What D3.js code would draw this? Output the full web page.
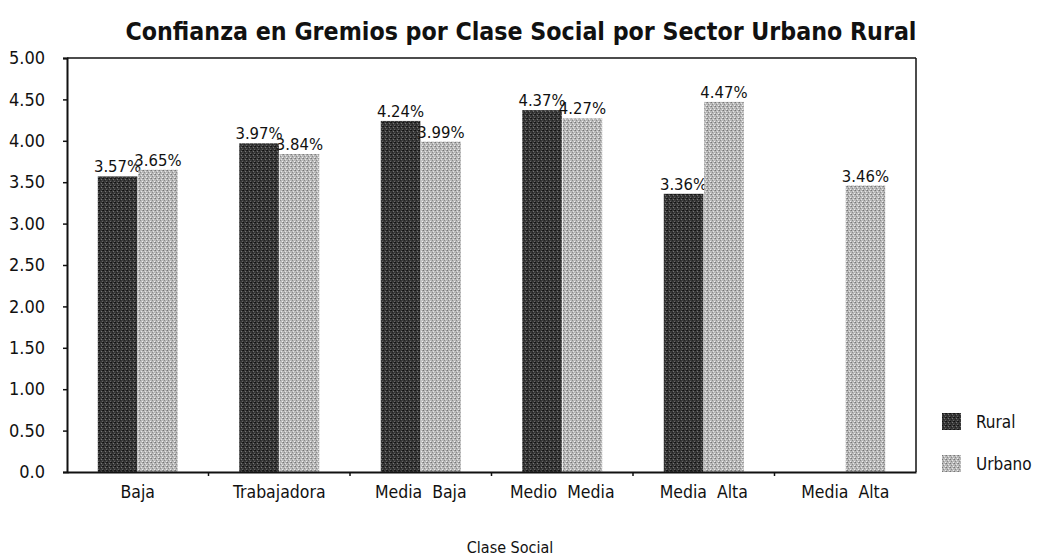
<!DOCTYPE html>
<html>
<head>
<meta charset="utf-8">
<script src="https://cdn.jsdelivr.net/npm/d3@7"></script>
<style>
  body { margin: 0; background: #fff; }
  svg text { font-family: "Liberation Sans Narrow", "DejaVu Sans Condensed", "Roboto Condensed", sans-serif; fill: #111; }
</style>
</head>
<body>
<svg id="chart" width="1037" height="558"></svg>
<script>
// Confianza en gremios por clase social y sector
const categories = ["Baja", "Trabajadora", "Media  Baja", "Medio  Media", "Media  Alta", "Media  Alta"];
const rural  = [3.57, 3.97, 4.24, 4.37, 3.36, null];
const urbano = [3.65, 3.84, 3.99, 4.27, 4.47, 3.46];
const yTicks = [0, 0.5, 1, 1.5, 2, 2.5, 3, 3.5, 4, 4.5, 5];
const seriesNames = ["Rural", "Urbano"];

const svg = d3.select("#chart");
const margin = { left: 67, right: 121, top: 58, bottom: 86 };
const W = 1037, H = 558;
const plotW = W - margin.left - margin.right;
const plotH = H - margin.top - margin.bottom;

// Dithered fills
const defs = svg.append("defs");
function dither(id, base, dots) {
  const p = defs.append("pattern").attr("id", id).attr("patternUnits", "userSpaceOnUse")
    .attr("width", 4).attr("height", 4);
  p.append("rect").attr("width", 4).attr("height", 4).attr("fill", base);
  dots.forEach(([x, y, c]) => p.append("rect").attr("x", x).attr("y", y).attr("width", 1).attr("height", 1).attr("fill", c));
}
dither("patRural", "#383838", [[0,0,"#111"],[2,1,"#777"],[1,2,"#222"],[3,3,"#666"],[3,0,"#1a1a1a"]]);
dither("patUrbano", "#b8b8b8", [[0,0,"#777"],[2,1,"#e6e6e6"],[1,2,"#8a8a8a"],[3,3,"#eeeeee"],[3,0,"#999"]]);
const fills = ["url(#patRural)", "url(#patUrbano)"];

const g = svg.append("g").attr("transform", `translate(${margin.left},${margin.top})`);

const x0 = d3.scaleBand().domain(d3.range(categories.length)).range([0, plotW]).paddingInner(0.435).paddingOuter(0.2175);
const x1 = d3.scaleBand().domain([0, 1]).range([0, x0.bandwidth()]).paddingInner(0.02);
const y = d3.scaleLinear().domain([0, 5]).range([plotH, 0]);

// Frame: top and right edges
g.append("line").attr("x1", 0).attr("x2", plotW).attr("y1", 0).attr("y2", 0).attr("stroke", "#111").attr("stroke-width", 1.5);
g.append("line").attr("x1", plotW).attr("x2", plotW).attr("y1", 0).attr("y2", plotH).attr("stroke", "#111").attr("stroke-width", 1.5);

// Y axis
const yAxis = g.append("g").call(d3.axisLeft(y).tickValues(yTicks).tickSize(4)
  .tickFormat(d => d === 0 ? "0.0" : d3.format(".2f")(d)));
yAxis.select(".domain").attr("stroke", "#111").attr("stroke-width", 2);
yAxis.selectAll(".tick line").attr("stroke", "#111").attr("stroke-width", 1.5);
yAxis.selectAll(".tick text").attr("x", -22).attr("font-size", 18).attr("fill", "#111");

// Bars
const series = [rural, urbano];
series.forEach((vals, s) => {
  const data = vals.map((v, i) => ({ i, v })).filter(d => d.v != null);
  g.selectAll(".bar" + s).data(data).enter().append("rect")
    .attr("x", d => x0(d.i) + x1(s))
    .attr("y", d => y(d.v))
    .attr("width", x1.bandwidth())
    .attr("height", d => plotH - y(d.v))
    .attr("fill", fills[s]);
  g.selectAll(".lab" + s).data(data).enter().append("text")
    .attr("x", d => x0(d.i) + x1(s) + x1.bandwidth() / 2)
    .attr("y", d => y(d.v) - 4)
    .attr("text-anchor", "middle")
    .attr("font-size", 16.5)
    .text(d => d3.format(".2f")(d.v) + "%");
});

// X axis with ticks at category boundaries
const xAxis = g.append("g").attr("transform", `translate(0,${plotH})`)
  .call(d3.axisBottom(x0).tickSize(0).tickFormat(i => categories[i]));
xAxis.select(".domain").attr("stroke", "#111").attr("stroke-width", 2);
xAxis.selectAll(".tick text").attr("dy", "1.3em").attr("font-size", 17.5).style("white-space", "pre").attr("fill", "#111");
const step = x0.step();
xAxis.selectAll(".bound").data(d3.range(1, categories.length)).enter().append("line")
  .attr("x1", d => d * step).attr("x2", d => d * step)
  .attr("y1", 0).attr("y2", 4).attr("stroke", "#111").attr("stroke-width", 1.5);

// Title
svg.append("text").attr("x", 521).attr("y", 40).attr("text-anchor", "middle")
  .attr("font-size", 24.7).attr("font-weight", "bold").text("Confianza en Gremios por Clase Social por Sector Urbano Rural");

// Axis title
svg.append("text").attr("x", 510).attr("y", 553).attr("text-anchor", "middle")
  .attr("font-size", 16).text("Clase Social");

// Legend
const legend = svg.append("g").attr("transform", "translate(942,413)");
seriesNames.forEach((n, s) => {
  const row = legend.append("g").attr("transform", `translate(0,${s * 42})`);
  row.append("rect").attr("width", 19).attr("height", 17).attr("fill", fills[s]);
  row.append("text").attr("x", 34).attr("y", 15).attr("font-size", 17).text(n);
});
</script>
</body>
</html>
